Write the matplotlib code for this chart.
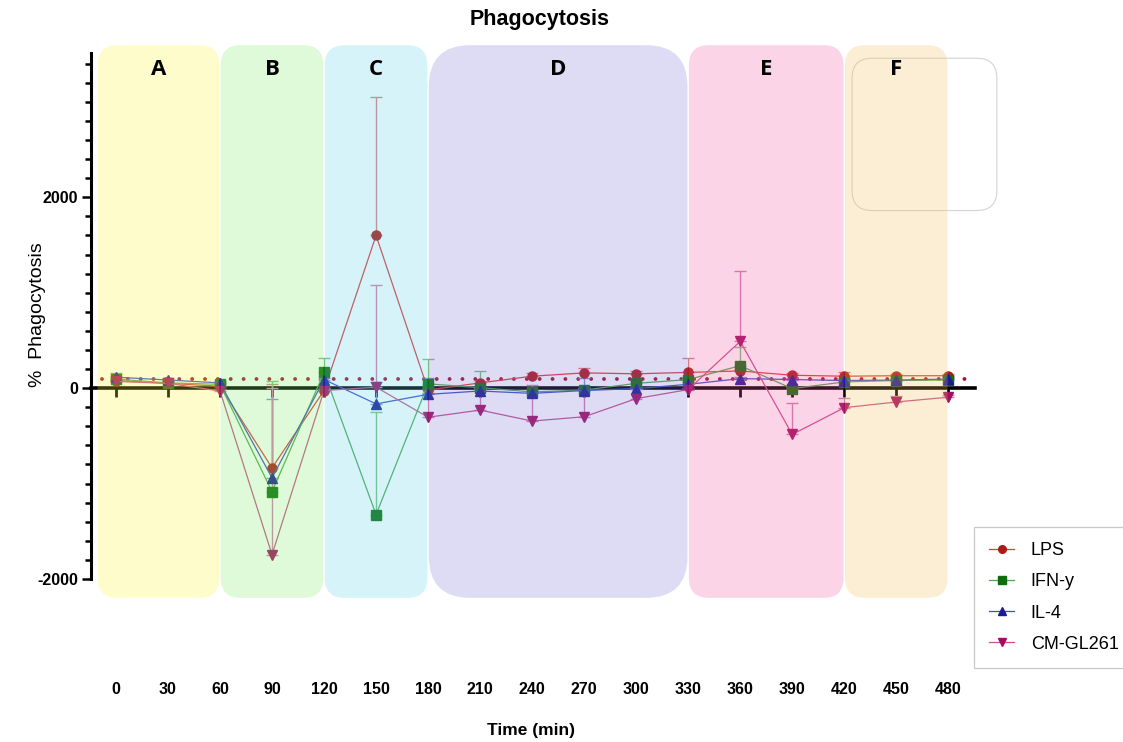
import matplotlib
matplotlib.use('Agg')
import matplotlib.pyplot as plt
from matplotlib.patches import FancyBboxPatch
from matplotlib.ticker import MultipleLocator, FixedLocator
from matplotlib import font_manager as fm

plt.rcParams['axes.unicode_minus'] = False


def pick(*names):
    avail = {f.name for f in fm.fontManager.ttflist}
    for n in names:
        if n in avail:
            return n
    return 'DejaVu Sans'


SANS = pick('Liberation Sans', 'Arial')
NARROW = pick('Liberation Sans Narrow', 'Liberation Sans')
LETTER = pick('Open Sans', 'Lato', 'DejaVu Sans')

# ---------------- data ----------------
time = [0, 30, 60, 90, 120, 150, 180, 210, 240, 270, 300, 330, 360, 390, 420, 450, 480]

lps = [80, 50, 20, -835, -25, 1600, -20, 55, 125, 160, 150, 165, 180, 135, 125, 130, 130]
lps_err = [20, 20, 20, 880, 20, 1450, 20, 20, 35, 55, 30, 150, 20, 20, 45, 20, 20]

ifn = [95, 55, 40, -1085, 165, -1325, 45, 5, -40, -20, 50, 90, 235, -5, 65, 80, 85]
ifn_err = [20, 20, 20, 1160, 150, 1075, 260, 175, 20, 20, 20, 20, 195, 20, 20, 20, 20]

il4 = [115, 85, 55, -940, 90, -165, -65, -30, -55, -25, -5, 40, 100, 90, 80, 85, 95]
il4_err = [40, 20, 20, 830, 20, 230, 175, 20, 20, 130, 20, 20, 20, 20, 20, 20, 20]

cm = [70, 50, -30, -1745, -25, 10, -305, -230, -345, -300, -110, -15, 490, -485, -205, -145, -95]
cm_err = [20, 20, 20, 1745, 20, 1070, 250, 230, 380, 300, 100, 20, 735, 330, 100, 60, 20]

series_names = ['LPS', 'IFN-y', 'IL-4', 'CM-GL261']
baseline_value = 100

region_labels = ['A', 'B', 'C', 'D', 'E', 'F']
region_start = [-11, 60, 120, 180, 330, 420]
region_end = [60, 120, 180, 330, 420, 480]

x_ticks = time
y_major = [-2000, 0, 2000]

# ---------------- styles ----------------
line_colors = ['#E03A3A', '#4FA84F', '#3A4FC8', '#C8508E']
marker_colors = ['#B01818', '#0E6E0E', '#1C1C90', '#A01060']
err_colors = ['#D88080', '#7CC07C', '#8090D8', '#D080B0']
markers = ['o', 's', '^', 'v']
region_colors = ['#FBF72F', '#7FEF67', '#5FD3EB', '#7B77D7', '#F757A3', '#F7BF5B']
region_radius = [11.5, 11.5, 11.5, 24, 11.5, 11.5]

W, H = 1123, 742
fig = plt.figure(figsize=(W / 100, H / 100), dpi=100)
ax = fig.add_axes([91 / W, 163 / H, 884 / W, 526.3 / H])
ax.set_xlim(-14.4, 495.4)
ax.set_ylim(-2000, 3515)

px_per_min = 884 / (495.4 + 14.4)
px_per_unit = 526.3 / 5515
aspect = px_per_min / px_per_unit

# baseline dotted line
ax.plot([-8, 490], [baseline_value, baseline_value], color='#A8102A', lw=2.8,
        linestyle=(0, (0.01, 3.3)), dash_capstyle='round', zorder=2)

all_vals = [lps, ifn, il4, cm]
all_errs = [lps_err, ifn_err, il4_err, cm_err]
handles = []
for vals, errs, lc, mc, ec, mk, name in zip(all_vals, all_errs, line_colors,
                                            marker_colors, err_colors, markers,
                                            series_names):
    ax.errorbar(time, vals, yerr=[[0] * len(errs), errs], fmt='none',
                ecolor=ec, elinewidth=1.0, capsize=4, capthick=1.0, zorder=3)
    h, = ax.plot(time, vals, color=lc, lw=0.9, marker=mk, markersize=6.5,
                 markerfacecolor=mc, markeredgecolor=mc, zorder=4, label=name)
    handles.append(h)

# shaded phase boxes (overlaid)
for lab, s, e, c, r in zip(region_labels, region_start, region_end,
                           region_colors, region_radius):
    box = FancyBboxPatch((s + 0.4, -2198), e - s - 0.8, 5792,
                         boxstyle=f"round,pad=0,rounding_size={r}",
                         mutation_aspect=aspect, fc=c, ec='none', alpha=0.25,
                         zorder=5, clip_on=False)
    ax.add_patch(box)
    ax.text((s + e) / 2, 3340, lab, ha='center', va='center', fontsize=16,
            fontweight='bold', family=LETTER, zorder=6)

# faint empty rounded frame
frame = FancyBboxPatch((424.5, 1861), 83.5, 1596,
                       boxstyle="round,pad=0,rounding_size=11.5",
                       mutation_aspect=aspect, fc='none', ec='#D4D4D4', lw=0.8,
                       zorder=4.5, clip_on=False)
ax.add_patch(frame)

# axes styling
for sp in ['top', 'right']:
    ax.spines[sp].set_visible(False)
ax.spines['left'].set_linewidth(2.2)
ax.spines['bottom'].set_position(('data', 0))
ax.spines['bottom'].set_linewidth(2.6)
ax.patch.set_alpha(0)

ax.yaxis.set_major_locator(FixedLocator(y_major))
ax.yaxis.set_minor_locator(MultipleLocator(200))
ax.tick_params(axis='y', which='major', direction='out', length=6.5, width=1.8,
               pad=3, labelsize=11.5)
ax.tick_params(axis='y', which='minor', direction='out', length=4.2, width=1.8)
for t in ax.get_yticklabels():
    t.set_fontweight('bold')
    t.set_family(SANS)

ax.set_xticks(x_ticks)
ax.set_xticklabels([str(t) for t in x_ticks])
ax.tick_params(axis='x', which='major', direction='out', length=6.5, width=2.0,
               pad=205, labelsize=11.5)
for t in ax.get_xticklabels():
    t.set_fontweight('bold')
    t.set_family(NARROW)

fig.text(540 / W, 1 - 19 / H, 'Phagocytosis', ha='center', va='center',
         fontsize=15.5, fontweight='bold', family=SANS)
fig.text(37 / W, 1 - 315 / H, '%  Phagocytosis', rotation=90, ha='center',
         va='center', fontsize=14, family=SANS)
fig.text(531 / W, 1 - 731 / H, 'Time (min)', ha='center', va='center',
         fontsize=12.5, fontweight='bold', family=NARROW)

leg = fig.legend(handles=handles, labels=series_names, loc='upper left',
                 bbox_to_anchor=(974 / W, 1 - 527 / H), bbox_transform=fig.transFigure,
                 fancybox=False, frameon=True, edgecolor='#BBBBBB',
                 prop={'family': SANS, 'size': 13}, handlelength=1.35,
                 handletextpad=0.95, labelspacing=0.78, borderpad=0.85,
                 borderaxespad=0)
leg.get_frame().set_linewidth(0.9)
for lh in leg.legend_handles:
    lh.set_markersize(5.5)

fig.savefig('out.png', dpi=100)
